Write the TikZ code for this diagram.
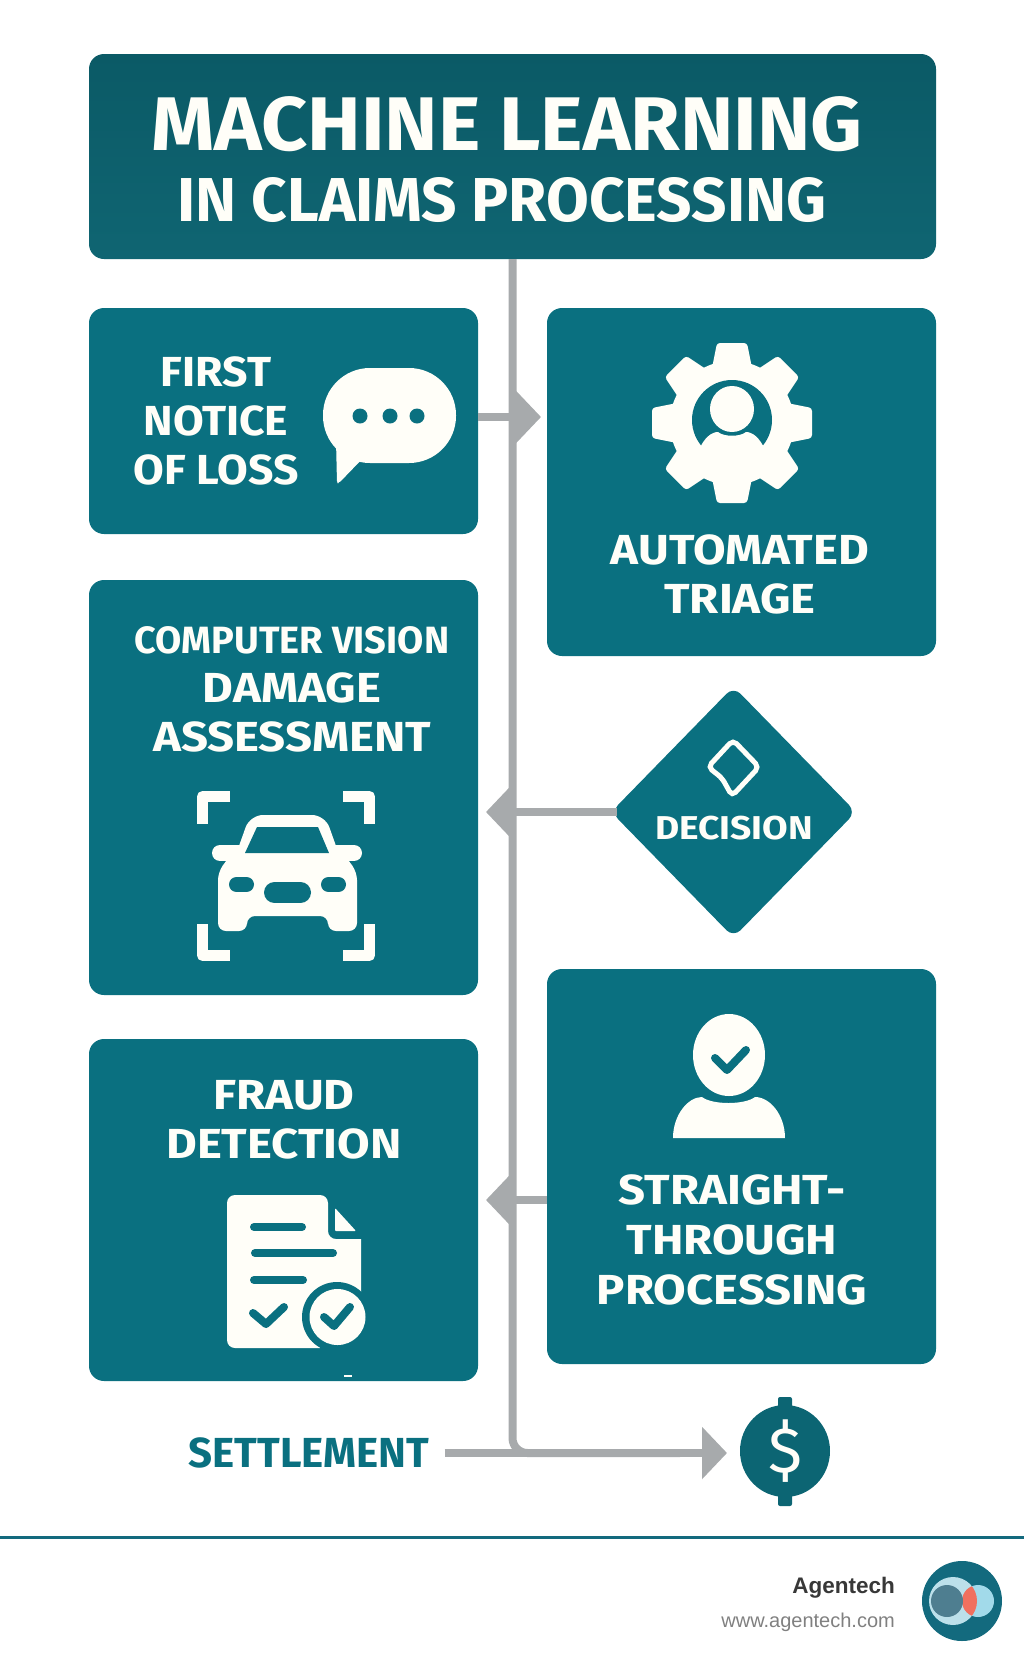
\documentclass[tikz,border=0pt]{standalone}
\usepackage{fontspec}
\setmainfont{Fira Sans}
\newfontfamily\widefont[FakeStretch=1.125]{Fira Sans}
\newfontfamily\halfwidefont[FakeStretch=1.06]{Fira Sans}
\newfontfamily\footfont{Liberation Sans}
\usetikzlibrary{arrows.meta,shapes.geometric}

\definecolor{boxteal}{HTML}{0A7080}
\definecolor{titletop}{HTML}{0B5A66}
\definecolor{titlebot}{HTML}{0F6572}
\definecolor{darkteal}{HTML}{0C6573}
\definecolor{ivory}{HTML}{FFFEF8}
\definecolor{flowgray}{HTML}{A7AAAC}
\definecolor{footline}{HTML}{136A7E}
\definecolor{logopale}{HTML}{BCE0EA}
\definecolor{logosky}{HTML}{A2DAEA}
\definecolor{logoslate}{HTML}{4E7E90}
\definecolor{logocoral}{HTML}{F0705F}

\tikzset{
  panel/.style={fill=boxteal, rounded corners=15pt, inner sep=0pt, minimum width=389pt},
  boxlabel/.style={text=ivory, align=center, inner sep=0pt, font=\widefont\bfseries\fontsize{42}{49}\selectfont},
  flowline/.style={draw=flowgray, line width=8pt},
  flowarrow/.style={flowline, -{Triangle[length=25pt,width=51pt]}},
  iconcut/.style={draw=boxteal, line width=8pt, line cap=round, line join=round},
}

\begin{document}
\begin{tikzpicture}[x=1pt,y=-1pt]
    \useasboundingbox (0,0) rectangle (1024,1666);

    % Title
    \node[rounded corners=15pt, top color=titletop, bottom color=titlebot, inner sep=0pt,
          minimum width=847pt, minimum height=205pt] (title) at (512.5,156.5) {};
    \node[boxlabel, font=\halfwidefont\bfseries\fontsize{76}{76}\selectfont] (titleone) at (507,124) {MACHINE LEARNING};
    \node[boxlabel, font=\bfseries\fontsize{62}{62}\selectfont] (titletwo) at (502,200) {IN CLAIMS PROCESSING};

    % Connectors
    \coordinate (fnoltip) at (541,417);
    \coordinate (decisiontip) at (486,812);
    \coordinate (stptip) at (486,1200);
    \coordinate (settletip) at (727,1453);
    \coordinate (settlebase) at (680,1453);

    % Panels
    \node[panel, minimum height=226pt] (fnol) at (283.5,421) {};
    \node[panel, minimum height=348pt] (triage) at (741.5,482) {};
    \node[panel, minimum height=415pt] (vision) at (283.5,787.5) {};
    \node[panel, minimum height=342pt] (fraud) at (283.5,1210) {};
    \node[panel, minimum height=395pt] (stp) at (741.5,1166.5) {};
    \node[diamond, fill=boxteal, rounded corners=10pt, inner sep=0pt, aspect=1,
          minimum width=245pt, minimum height=251pt] (decision) at (733.5,812) {};

    % Labels
    \node[boxlabel, font=\halfwidefont\bfseries\fontsize{42}{49}\selectfont] (fnoltext) at (216,421) {FIRST\\NOTICE\\OF LOSS};
    \node[boxlabel] (triagetext) at (740,574) {AUTOMATED\\TRIAGE};
    \node[boxlabel, font=\widefont\bfseries\fontsize{42}{49}\selectfont] (visiontext) at (292,689)
        {{\normalfont\bfseries\fontsize{38}{48}\selectfont COMPUTER VISION}\\DAMAGE\\ASSESSMENT};
    \node[boxlabel, font=\widefont\bfseries\fontsize{33}{33}\selectfont] (decisiontext) at (734,828) {DECISION};
    \node[boxlabel] (fraudtext) at (284,1120) {FRAUD\\DETECTION};
    \node[boxlabel, font=\widefont\bfseries\fontsize{42}{50}\selectfont] (stptext) at (732,1240) {STRAIGHT-\\THROUGH\\PROCESSING};
    \node[boxlabel, text=boxteal, font=\bfseries\fontsize{42}{42}\selectfont] (settlement) at (309,1453) {SETTLEMENT};

    % Settlement coin
    \fill[darkteal, rounded corners=2pt] (778,1397) rectangle (792,1412);
    \fill[darkteal, rounded corners=2pt] (778,1492) rectangle (792,1506);
    \node[ellipse, fill=darkteal, inner sep=0pt, minimum width=90pt, minimum height=92pt] (dollar) at (785,1451) {};
    \node[boxlabel, font=\fontsize{64}{64}\selectfont] (dollartext) at (785,1451) {\$};

    % Flow lines
    \draw[flowline, rounded corners=15pt] (title.south) |- (settlebase);
    \draw[flowarrow] ([yshift=4pt]fnol.east) -- (fnoltip);
    \draw[flowarrow] ([xshift=6pt]decision.west) -- (decisiontip);
    \draw[flowarrow] (stp.west |- stptip) -- (stptip);
    \draw[flowarrow] ([xshift=15pt]settlement.east) -- (settletip);

    % Speech bubble
    \fill[ivory, rounded corners=47pt] (323,368) rectangle (456,463);
    \fill[ivory, rounded corners=2pt] (336,440) -- (337,483) -- (339,483) -- (366,455) -- cycle;
    \foreach \x in {360,390,417} {
        \fill[boxteal] (\x,416) circle (7.5pt);
    }

    % Gear
    \begin{scope}[shift={(732,423)}]
        \fill[ivory] (0,0) circle (62pt);
        \foreach \a in {0,45,...,315} {
            \fill[ivory, rotate=\a, rounded corners=3pt] (-20,-55) -- (-15,-80) -- (15,-80) -- (20,-55) -- cycle;
        }
        \fill[boxteal] (0,-3) circle (40pt);
        \fill[ivory] (0,-14) ellipse (22pt and 23pt);
        \fill[ivory] (-34,29) .. controls (-28,14) and (-20,9) .. (-14,9)
            .. controls (-8,14) and (8,14) .. (14,9)
            .. controls (20,9) and (28,14) .. (34,29) -- (34,45) -- (-34,45) -- cycle;
    \end{scope}

    % Car frame
    \foreach \ax/\ay/\bx/\by/\cx/\cy in {230/796.5/202.5/796.5/202.5/824, 343/796.5/369.5/796.5/369.5/824,
        202.5/924/202.5/955.5/230/955.5, 369.5/924/369.5/955.5/343/955.5} {
        \draw[ivory, line width=11pt, line join=round] (\ax,\ay) -- (\bx,\by) -- (\cx,\cy);
    }

    % Car
    \fill[ivory, rounded corners=13pt] (234,860) -- (250,815) -- (325,815) -- (341,860) -- cycle;
    \fill[ivory, rounded corners=8pt] (232,853) -- (218,872) -- (218,931) -- (247,931) -- (247,916)
        -- (328,916) -- (328,931) -- (357,931) -- (357,872) -- (343,853) -- cycle;
    \draw[ivory, line width=16pt, line cap=round] (220,853) -- (240,853);
    \draw[ivory, line width=16pt, line cap=round] (335,853) -- (354,853);
    \fill[boxteal] (257,827) -- (318,827) -- (329,853) -- (245,853) -- cycle;
    \draw[boxteal, line width=15pt, line cap=round] (236.5,884.5) -- (246.5,884.5);
    \draw[boxteal, line width=15pt, line cap=round] (328.5,884.5) -- (338.5,884.5);
    \draw[boxteal, line width=21pt, line cap=round] (274.5,892.5) -- (300.5,892.5);

    % Decision icon
    \draw[ivory, line width=5pt, rounded corners=5pt] (733,740) -- (759,767) -- (732,796) -- (722,778) -- (708,767) -- cycle;

    % Document
    \fill[ivory, rounded corners=8pt] (227,1195) -- (328,1195) -- (328,1239) [sharp corners] -- (361,1239)
        -- (361,1295) -- (320,1348) [rounded corners=8pt] -- (227,1348) -- cycle;
    \fill[ivory, rounded corners=1pt] (335,1208) -- (356,1231) -- (335,1231) -- cycle;
    \foreach \xa/\xb/\y in {254/302/1227, 255/333/1253, 254/303/1280} {
        \draw[boxteal, line width=8pt, line cap=round] (\xa,\y) -- (\xb,\y);
    }
    \draw[iconcut] (253,1313) -- (266,1324) -- (284,1307);
    \fill[boxteal] (337,1317) circle (35pt);
    \fill[ivory] (337.5,1317) circle (28pt);
    \draw[iconcut] (324,1317) -- (334,1326) -- (350,1307);
    \fill[ivory] (344,1374.5) rectangle (352,1376.5);

    % Person
    \fill[ivory] (729,1055) ellipse (36pt and 41pt);
    \draw[iconcut] (715,1058) -- (727,1070) -- (746,1050);
    \fill[ivory] (673,1138) .. controls (673,1115) and (688,1097) .. (702,1097)
        .. controls (712,1105) and (745,1105) .. (755,1097)
        .. controls (770,1097) and (785,1115) .. (785,1138) -- cycle;

    % Footer
    \draw[footline, line width=3pt] (0,1537) -- (1024,1537);
    \node[anchor=east, inner sep=0pt, text=black!78, font=\footfont\bfseries\fontsize{22.5}{22.5}\selectfont] (brand) at (895,1588) {Agentech};
    \node[anchor=east, inner sep=0pt, text=black!50, font=\footfont\fontsize{20}{20}\selectfont] (site) at (895,1622) {www.agentech.com};

    % Logo
    \fill[footline] (962,1601) circle (40pt);
    \fill[logopale] (953,1601) circle (24pt);
    \fill[logosky] (978,1601) circle (16pt);
    \begin{scope}
        \clip (953,1601) circle (24pt);
        \fill[logocoral] (978,1601) circle (16pt);
    \end{scope}
    \fill[logoslate] (947,1601) circle (16pt);
\end{tikzpicture}
\end{document}
